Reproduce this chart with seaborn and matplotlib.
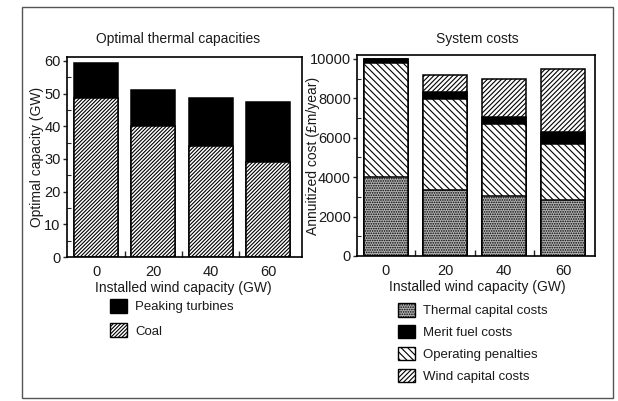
import matplotlib
matplotlib.use('Agg')
import matplotlib.pyplot as plt
import seaborn as sns
import pandas as pd
from matplotlib.patches import Patch, Rectangle
from matplotlib.ticker import MultipleLocator, FixedLocator

# ---- data ----
wind_capacity = ['0', '20', '40', '60']
coal = [48.5, 40, 34, 29]
peaking_turbines = [11, 11, 14.5, 18.5]

thermal_capital = [4000, 3370, 3070, 2820]
operating_penalties = [5770, 4610, 3630, 2870]
merit_fuel = [230, 360, 350, 610]
wind_capital = [0, 840, 1950, 3200]

sns.set_style('white')
plt.rcParams['font.family'] = ['Liberation Sans', 'DejaVu Sans']
plt.rcParams['hatch.linewidth'] = 0.8
INK = '#1a1a1a'

H_COAL = '/' * 9
H_WIND = '/' * 7
H_OPER = '\\' * 5
H_THERM = '.' * 7
C_THERM = '#b3b3b3'

fig = plt.figure(figsize=(6.18, 4.01), dpi=100)
fig.add_artist(Rectangle((0.0356, 0.0075), 0.956, 0.975, transform=fig.transFigure,
                         fill=False, lw=1.0, ec='#555555'))

ax1 = fig.add_axes([0.1084, 0.3591, 0.3803, 0.4988])
ax2 = fig.add_axes([0.5777, 0.3616, 0.3851, 0.5012])

# ---- left panel: optimal thermal capacities ----
df1 = pd.DataFrame({'wind': wind_capacity, 'coal': coal, 'peaking': peaking_turbines})
df1['top'] = df1['coal'] + df1['peaking']
common1 = dict(x='wind', edgecolor='black', linewidth=1.1, width=0.77,
               saturation=1, errorbar=None, ax=ax1)
sns.barplot(data=df1, y='top', color='black', **common1)
sns.barplot(data=df1, y='coal', color='white', hatch=H_COAL, **common1)

# ---- right panel: system costs ----
df2 = pd.DataFrame({'wind': wind_capacity, 'thermal': thermal_capital,
                    'oper': operating_penalties, 'merit': merit_fuel,
                    'windcap': wind_capital})
df2['c1'] = df2['thermal']
df2['c2'] = df2['c1'] + df2['oper']
df2['c3'] = df2['c2'] + df2['merit']
df2['c4'] = df2['c3'] + df2['windcap']
common2 = dict(x='wind', edgecolor='black', linewidth=1.1, width=0.75,
               saturation=1, errorbar=None, ax=ax2)
sns.barplot(data=df2, y='c4', color='white', hatch=H_WIND, **common2)
sns.barplot(data=df2, y='c3', color='black', **common2)
sns.barplot(data=df2, y='c2', color='white', hatch=H_OPER, **common2)
sns.barplot(data=df2, y='c1', color=C_THERM, hatch=H_THERM, **common2)

# ---- axes styling ----
for ax in (ax1, ax2):
    for sp in ax.spines.values():
        sp.set_color('black')
        sp.set_linewidth(1.2)
    ax.tick_params(axis='x', which='major', length=0, pad=6, labelsize=10.5, labelcolor=INK)
    ax.xaxis.set_minor_locator(FixedLocator([0.5, 1.5, 2.5]))
    ax.tick_params(axis='x', which='minor', direction='in', length=4, width=1, bottom=True)
    ax.tick_params(axis='y', which='major', direction='out', length=3, width=1,
                   pad=1.5, labelsize=10.5, labelcolor=INK, left=True)
    ax.tick_params(axis='y', which='minor', direction='in', length=3, width=0.8, left=True)
    ax.set_xlabel('Installed wind capacity (GW)', fontsize=10, color=INK)

ax1.set_xlim(-0.506, 3.59)
ax1.set_ylim(0, 61.2)
ax1.set_yticks([0, 10, 20, 30, 40, 50, 60])
ax1.yaxis.set_minor_locator(MultipleLocator(5))
ax1.set_ylabel('Optimal capacity (GW)', fontsize=10, color=INK)
ax1.yaxis.set_label_coords(-0.098, 0.5)
ax1.xaxis.set_label_coords(0.494, -0.12)
ax1.text(0.472, 1.09, 'Optimal thermal capacities', transform=ax1.transAxes,
         ha='center', va='center', fontsize=10, color=INK)

ax2.set_xlim(-0.49, 3.54)
ax2.set_ylim(0, 10200)
ax2.set_yticks([0, 2000, 4000, 6000, 8000, 10000])
ax2.yaxis.set_minor_locator(MultipleLocator(1000))
ax2.set_ylabel('Annuitized cost (£m/year)', fontsize=10, color=INK)
ax2.yaxis.set_label_coords(-0.155, 0.5)
ax2.xaxis.set_label_coords(0.504, -0.12)
ax2.text(0.504, 1.08, 'System costs', transform=ax2.transAxes,
         ha='center', va='center', fontsize=10, color=INK)

# ---- legends ----
h1 = [Patch(facecolor='black', edgecolor='black', lw=1, label='Peaking turbines'),
      Patch(facecolor='white', edgecolor='black', lw=1, hatch=H_COAL, label='Coal')]
fig.legend(handles=h1, loc='upper left', bbox_to_anchor=(0.178, 0.2544),
           frameon=False, fontsize=9.5, handlelength=1.3, handleheight=1.2,
           handletextpad=0.6, labelspacing=0.77, borderpad=0, borderaxespad=0,
           labelcolor=INK)

h2 = [Patch(facecolor=C_THERM, edgecolor='black', lw=1, hatch=H_THERM, label='Thermal capital costs'),
      Patch(facecolor='black', edgecolor='black', lw=1, label='Merit fuel costs'),
      Patch(facecolor='white', edgecolor='black', lw=1, hatch=H_OPER, label='Operating penalties'),
      Patch(facecolor='white', edgecolor='black', lw=1, hatch=H_WIND, label='Wind capital costs')]
fig.legend(handles=h2, loc='upper left', bbox_to_anchor=(0.644, 0.2444),
           frameon=False, fontsize=9.5, handlelength=1.3, handleheight=1.2,
           handletextpad=0.6, labelspacing=0.58, borderpad=0, borderaxespad=0,
           labelcolor=INK)

fig.savefig('out.png', dpi=100)
